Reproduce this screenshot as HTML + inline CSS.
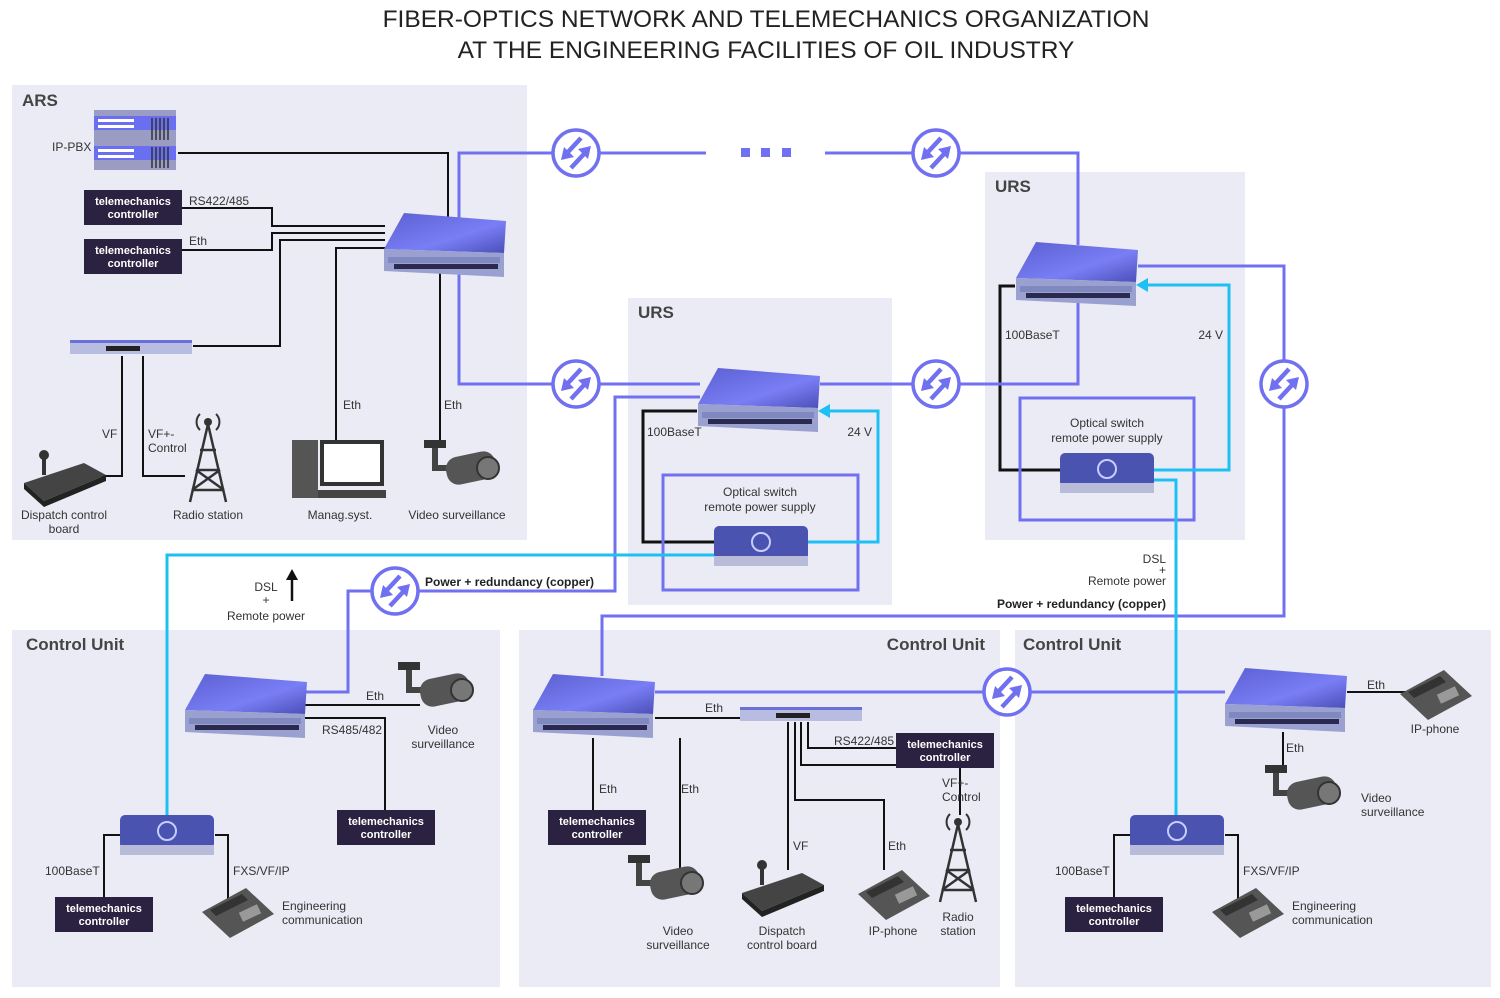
<!DOCTYPE html>
<html><head><meta charset="utf-8"><style>
html,body{margin:0;padding:0;background:#fff}
svg{display:block;font-family:"Liberation Sans",sans-serif}
.t{font-size:12px;fill:#333}
.h{font-size:17px;font-weight:bold;fill:#444}
.w{font-size:11px;font-weight:bold;fill:#fff}
.p{fill:none;stroke:#7070f0;stroke-width:3}
.c{fill:none;stroke:#1cc0f2;stroke-width:3}
.k{fill:none;stroke:#111;stroke-width:2}
.k3{fill:none;stroke:#111;stroke-width:3}
</style></head><body>
<svg width="1500" height="998" viewBox="0 0 1500 998" xmlns="http://www.w3.org/2000/svg">
<defs>
<linearGradient id="g1" x1="0" y1="0" x2="1" y2="1"><stop offset="0" stop-color="#5a5fd0"/><stop offset="0.6" stop-color="#7a7ef5"/><stop offset="1" stop-color="#4a4fb8"/></linearGradient>
<g id="sw">
<polygon points="20,0 122,8 120,40 0,36" fill="url(#g1)"/>
<polygon points="0,36 120,40 120,64 0,58" fill="#9aa0d0"/>
<rect x="4" y="44" width="112" height="6" fill="#8088c0"/>
<rect x="10" y="51" width="104" height="5" fill="#2a2a50"/>
</g>
<g id="rep">
<circle r="23" fill="#fff" stroke="#7070f0" stroke-width="3.5"/>
<path d="M5,-15 L-8,-1 M-5,15 L8,1" stroke="#7070f0" stroke-width="4.5" fill="none"/>
<polygon points="-15,7 -12,-6 -2,4" fill="#7070f0"/>
<polygon points="15,-7 12,6 2,-4" fill="#7070f0"/>
</g>
<g id="psu">
<rect x="0" y="0" width="94" height="34" rx="5" fill="#4a54b0"/>
<rect x="0" y="30" width="94" height="10" fill="#b8bcd8"/>
<circle cx="47" cy="16" r="9" fill="none" stroke="#c8ccff" stroke-width="2"/>
</g>
<g id="cam">
<rect x="0" y="0" width="22" height="8" fill="#333"/>
<rect x="8" y="8" width="6" height="22" fill="#444"/>
<rect x="8" y="25" width="22" height="6" fill="#444"/>
<rect x="22" y="14" width="50" height="28" rx="12" fill="#555" transform="rotate(-12 47 28)"/>
<circle cx="64" cy="28" r="11" fill="#777" stroke="#333" stroke-width="2"/>
</g>
<g id="phone">
<polygon points="0,24 44,0 72,26 28,50" fill="#555"/>
<polygon points="8,22 40,6 46,12 14,28" fill="#333"/>
<rect x="38" y="20" width="20" height="10" fill="#999" transform="rotate(-25 48 25)"/>
</g>
<g id="radio">
<path d="M22,14 L4,92 M22,14 L40,92 M10,60 L34,60 M14,40 L30,40 M6,80 L38,80 M10,60 L38,80 M34,60 L6,80" stroke="#333" stroke-width="2.5" fill="none"/>
<circle cx="22" cy="12" r="4" fill="#333"/><path d="M14,4 A11,11 0 0 0 14,20 M30,4 A11,11 0 0 1 30,20" stroke="#333" stroke-width="2" fill="none"/>
</g>
<g id="disp">
<rect x="18" y="0" width="4" height="20" fill="#333"/><circle cx="20" cy="0" r="5" fill="#333"/>
<polygon points="0,28 60,8 82,20 20,46" fill="#444"/>
<polygon points="20,46 82,20 82,26 20,52 0,34 0,28" fill="#222"/>
</g>
<g id="rack">
<rect x="0" y="0" width="122" height="14" fill="#b8bce0"/>
<rect x="0" y="0" width="122" height="3" fill="#6a70d8"/>
<rect x="36" y="6" width="34" height="5" fill="#222"/>
</g>
</defs>

<text x="766" y="27" text-anchor="middle" font-size="24.5" fill="#222">FIBER-OPTICS NETWORK AND TELEMECHANICS ORGANIZATION</text>
<text x="766" y="58" text-anchor="middle" font-size="24.5" fill="#222">AT THE ENGINEERING FACILITIES OF OIL INDUSTRY</text>

<g fill="#ebebf5">
<rect x="12" y="85" width="515" height="455"/>
<rect x="628" y="298" width="264" height="307"/>
<rect x="985" y="172" width="260" height="368"/>
<rect x="12" y="630" width="488" height="357"/>
<rect x="519" y="630" width="481" height="357"/>
<rect x="1015" y="630" width="476" height="357"/>
</g>
<text x="22" y="106" class="h">ARS</text>
<text x="638" y="318" class="h">URS</text>
<text x="995" y="192" class="h">URS</text>
<text x="26" y="650" class="h">Control Unit</text>
<text x="985" y="650" class="h" text-anchor="end">Control Unit</text>
<text x="1023" y="650" class="h">Control Unit</text>

<path class="k" d="M178,153 H448 V230 M182,208 H272 V226 H385 M182,250 H272 V233 H385 M193,346 H280 V240 H385 M336,440 V248 H385 M440,270 V440 M122,356 V476 H100 M143,356 V476 H185"/>
<path class="k3" d="M697,411 H643 V542 H714 M1015,286 H1000 V470 H1060"/>
<path class="k" d="M305,705 H420 M305,718 H385 V812 M120,835 H104 V897 M215,835 H228 V905"/>
<path class="k" d="M593,738 V812 M680,738 V870 M655,718 H740 M808,722 V748 H897 M801,722 V765 H960 V815 M795,722 V800 H884 V870 M788,722 V870"/>
<path class="k" d="M1347,692 H1410 M1283,732 V770 M1130,835 H1114 V897 M1225,835 H1238 V905"/>

<path class="p" d="M459,245 V153 H706 M825,153 H1078 V245 M459,262 V384 H700 M820,384 H1078 V295 M1138,266 H1284 V616 H602 V676 M700,397 H615 V591 H348 V692 H305 M655,692 H1225"/>
<rect x="663" y="475" width="195" height="115" class="p"/>
<rect x="1020" y="398" width="174" height="122" class="p"/>
<g fill="#7070f0"><rect x="741" y="148" width="9" height="9"/><rect x="761" y="148" width="9" height="9"/><rect x="782" y="148" width="9" height="9"/></g>

<path class="c" d="M808,542 H878 V411 H828 M714,555 H167 V815 M1153,470 H1229 V285 H1146 M1153,480 H1176 V815"/>
<polygon points="818,411 830,404 830,418" fill="#1cc0f2"/>
<polygon points="1136,285 1148,278 1148,292" fill="#1cc0f2"/>

<use href="#rep" x="576" y="153"/><use href="#rep" x="936" y="153"/>
<use href="#rep" x="576" y="384"/><use href="#rep" x="936" y="384"/>
<use href="#rep" x="1284" y="384"/><use href="#rep" x="395" y="591"/>
<use href="#rep" x="1007" y="692"/>

<use href="#sw" x="384" y="213"/><use href="#sw" x="698" y="368"/>
<use href="#sw" x="1016" y="242"/><use href="#sw" x="185" y="674"/>
<use href="#sw" x="533" y="674"/><use href="#sw" x="1225" y="668"/>

<use href="#psu" x="714" y="526"/><use href="#psu" x="1060" y="453"/>
<use href="#psu" x="120" y="815"/><use href="#psu" x="1130" y="815"/>

<use href="#rack" x="70" y="340"/><use href="#rack" x="740" y="707"/>

<g>
<rect x="94" y="110" width="82" height="30" fill="#9a9cc4"/><rect x="94" y="140" width="82" height="30" fill="#9a9cc4"/>
<rect x="94" y="116" width="82" height="14" fill="#6a6ef0"/><rect x="94" y="146" width="82" height="14" fill="#6a6ef0"/>
<g fill="#fff"><rect x="98" y="119" width="36" height="3"/><rect x="98" y="125" width="36" height="3"/><rect x="98" y="149" width="36" height="3"/><rect x="98" y="155" width="36" height="3"/></g>
<g stroke="#333" stroke-width="1.5"><path d="M152,118 V140 M156,118 V140 M160,118 V140 M164,118 V140 M168,118 V140 M152,147 V168 M156,147 V168 M160,147 V168 M164,147 V168 M168,147 V168"/></g>
</g>
<text x="52" y="151" class="t">IP-PBX</text>

<g fill="#2b2140">
<rect x="84" y="190" width="98" height="35"/><rect x="84" y="239" width="98" height="35"/>
<rect x="337" y="810" width="98" height="35"/><rect x="55" y="897" width="98" height="35"/>
<rect x="548" y="810" width="98" height="35"/><rect x="896" y="733" width="98" height="35"/>
<rect x="1065" y="897" width="98" height="35"/>
</g>
<g class="w" text-anchor="middle">
<text x="133" y="205">telemechanics</text><text x="133" y="218">controller</text>
<text x="133" y="254">telemechanics</text><text x="133" y="267">controller</text>
<text x="386" y="825">telemechanics</text><text x="386" y="838">controller</text>
<text x="104" y="912">telemechanics</text><text x="104" y="925">controller</text>
<text x="597" y="825">telemechanics</text><text x="597" y="838">controller</text>
<text x="945" y="748">telemechanics</text><text x="945" y="761">controller</text>
<text x="1114" y="912">telemechanics</text><text x="1114" y="925">controller</text>
</g>

<use href="#disp" x="24" y="455"/><use href="#radio" x="186" y="410"/>
<g><rect x="292" y="440" width="26" height="58" fill="#555"/><rect x="320" y="440" width="64" height="46" fill="#333"/><rect x="324" y="444" width="56" height="38" fill="#fff"/><rect x="318" y="490" width="68" height="8" fill="#444"/></g>
<use href="#cam" x="424" y="440"/>
<use href="#cam" x="398" y="662"/>
<use href="#phone" x="202" y="888"/>
<use href="#cam" x="628" y="855"/>
<use href="#disp" x="742" y="865"/>
<use href="#phone" x="858" y="870"/>
<use href="#radio" x="936" y="810"/>
<use href="#phone" x="1400" y="670"/>
<use href="#cam" x="1265" y="765"/>
<use href="#phone" x="1212" y="888"/>

<g class="t">
<text x="189" y="205">RS422/485</text><text x="189" y="245">Eth</text>
<text x="102" y="438">VF</text><text x="148" y="438">VF+-</text><text x="148" y="452">Control</text>
<text x="64" y="519" text-anchor="middle">Dispatch control</text><text x="64" y="533" text-anchor="middle">board</text>
<text x="208" y="519" text-anchor="middle">Radio station</text>
<text x="343" y="409">Eth</text><text x="444" y="409">Eth</text>
<text x="340" y="519" text-anchor="middle">Manag.syst.</text>
<text x="457" y="519" text-anchor="middle">Video surveillance</text>
<text x="647" y="436">100BaseT</text><text x="872" y="436" text-anchor="end">24 V</text>
<text x="760" y="496" text-anchor="middle">Optical switch</text><text x="760" y="511" text-anchor="middle">remote power supply</text>
<text x="1005" y="339">100BaseT</text><text x="1223" y="339" text-anchor="end">24 V</text>
<text x="1107" y="427" text-anchor="middle">Optical switch</text><text x="1107" y="442" text-anchor="middle">remote power supply</text>
<text x="266" y="591" text-anchor="middle">DSL</text><text x="266" y="604" text-anchor="middle">+</text><text x="266" y="620" text-anchor="middle">Remote power</text>
<text x="1166" y="563" text-anchor="end">DSL</text><text x="1166" y="574" text-anchor="end">+</text><text x="1166" y="585" text-anchor="end">Remote power</text>
<text x="366" y="700">Eth</text><text x="322" y="734">RS485/482</text>
<text x="443" y="734" text-anchor="middle">Video</text><text x="443" y="748" text-anchor="middle">surveillance</text>
<text x="45" y="875">100BaseT</text><text x="233" y="875">FXS/VF/IP</text>
<text x="282" y="910">Engineering</text><text x="282" y="924">communication</text>
<text x="705" y="712">Eth</text><text x="834" y="745">RS422/485</text>
<text x="599" y="793">Eth</text><text x="681" y="793">Eth</text>
<text x="942" y="787">VF+-</text><text x="942" y="801">Control</text>
<text x="793" y="850">VF</text><text x="888" y="850">Eth</text>
<text x="678" y="935" text-anchor="middle">Video</text><text x="678" y="949" text-anchor="middle">surveillance</text>
<text x="782" y="935" text-anchor="middle">Dispatch</text><text x="782" y="949" text-anchor="middle">control board</text>
<text x="893" y="935" text-anchor="middle">IP-phone</text>
<text x="958" y="921" text-anchor="middle">Radio</text><text x="958" y="935" text-anchor="middle">station</text>
<text x="1367" y="689">Eth</text><text x="1435" y="733" text-anchor="middle">IP-phone</text>
<text x="1286" y="752">Eth</text>
<text x="1361" y="802">Video</text><text x="1361" y="816">surveillance</text>
<text x="1055" y="875">100BaseT</text><text x="1243" y="875">FXS/VF/IP</text>
<text x="1292" y="910">Engineering</text><text x="1292" y="924">communication</text>
</g>
<text x="425" y="586" font-size="12" font-weight="bold" fill="#222">Power + redundancy (copper)</text>
<text x="1166" y="608" font-size="12" font-weight="bold" fill="#222" text-anchor="end">Power + redundancy (copper)</text>
<path d="M292,601 V576" stroke="#111" stroke-width="2.5"/><polygon points="292,569 286,580 298,580" fill="#111"/>
</svg>
</body></html>
